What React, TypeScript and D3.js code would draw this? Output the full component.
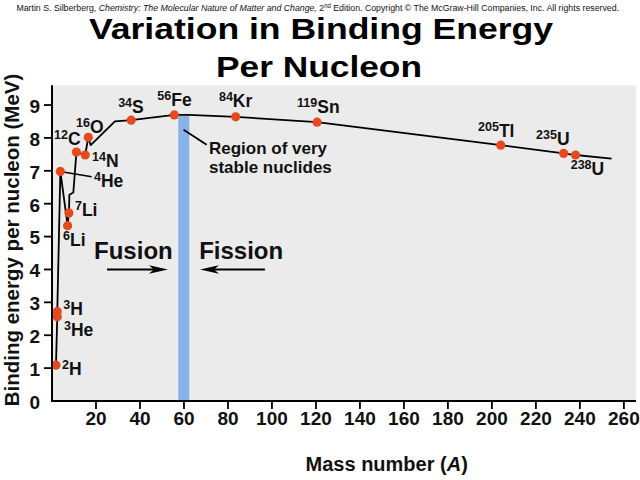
import React, { useLayoutEffect, useRef, useState } from "react";
import * as d3 from "d3";

// ---- data ----
const nuclideMass = ["2", "3", "3", "4", "6", "7", "12", "14", "16", "34", "56", "84", "119", "205", "235", "238"];
const nuclideSymbol = ["H", "H", "He", "He", "Li", "Li", "C", "N", "O", "S", "Fe", "Kr", "Sn", "Tl", "U", "U"];
const massNumberPos = [1.8, 2.4, 2.4, 3.8, 7.1, 7.7, 11.1, 15.1, 16.5, 36, 55.6, 83.5, 120.5, 204, 232.6, 238];
const bindingEnergy = [1.09, 2.72, 2.56, 6.98, 5.33, 5.72, 7.57, 7.48, 8.02, 8.54, 8.7, 8.64, 8.48, 7.78, 7.53, 7.48];

const curveA = [1.8, 2.4, 2.4, 3.8, 7.1, 7.7, 7.9, 9.7, 11.1, 15.1, 16.5, 17.6, 28.6, 36, 55.6, 62, 83.5, 120.5, 204, 232.6, 238, 254.4];
const curveBE = [1.09, 2.56, 2.72, 6.98, 5.33, 5.72, 6.27, 6.34, 7.57, 7.48, 8.02, 7.78, 8.5, 8.54, 8.7, 8.7, 8.64, 8.48, 7.78, 7.53, 7.48, 7.37];

const xTicks = [20, 40, 60, 80, 100, 120, 140, 160, 180, 200, 220, 240, 260];
const yTicks = [0, 1, 2, 3, 4, 5, 6, 7, 8, 9];
const stableBand = [57.4, 62.4];
const regionLines = ["Region of very", "stable nuclides"];

// ---- layout (label offsets in px relative to points) ----
const labelOffsets: [number, number][] = [
  [6, 10], [6, 3.5], [6.7, 19], [33.6, 15.3], [-4.6, 20.3], [6, 3], [-22.4, -7], [6.8, 12],
  [-12.3, -4.2], [-13, -6.8], [-17, -8.6], [-16.7, -10.1], [-20, -8.7], [-22.7, -8.4], [-27.6, -8.3], [-4.8, 20],
];

const FONT = "'Liberation Sans', Arial, Helvetica, sans-serif";
const W = 640;
const H = 480;
const HEADER_W = 603;

export default function App() {
  const headerRef = useRef<SVGTextElement>(null);
  const [headerScale, setHeaderScale] = useState(0.86);

  useLayoutEffect(() => {
    if (headerRef.current) {
      const w = headerRef.current.getBBox().width;
      if (w > 0) setHeaderScale(HEADER_W / w);
    }
  }, []);

  const x = d3.scaleLinear().domain([0, 265.5]).range([52, 636]);
  const y = d3.scaleLinear().domain([0, 9.6]).range([401, 85.3]);

  const line = d3
    .line<number>()
    .x((_, i) => x(curveA[i]))
    .y((d) => y(d));
  const curvePath = line(curveBE) || "";

  const pts = massNumberPos.map((a, i) => ({ px: x(a), py: y(bindingEnergy[i]) }));
  const fe = pts[10];
  const he4 = pts[3];

  const arrowHead = (tipX: number, tipY: number, dir: number) => {
    const L = 19, N = 14, h = 4.2;
    return `M${tipX},${tipY} L${tipX - dir * L},${tipY - h} L${tipX - dir * N},${tipY} L${tipX - dir * L},${tipY + h} Z`;
  };

  const arrowY = y(4.0);
  const fusionStart = x(25), fusionEnd = x(52.7);
  const fissionStart = x(96.8), fissionEnd = x(67.3);

  return (
    <svg width={W} height={H} style={{ position: "absolute", left: 0, top: 0, background: "#fff" }} fontFamily={FONT}>
      <rect x={0} y={0} width={W} height={H} fill="#fff" />
      {/* header */}
      <g transform={`translate(16.4, 10.5) scale(${headerScale}, 1)`}>
        <text ref={headerRef} x={0} y={0} fontSize={9.5} fill="#111">
          <tspan>Martin S. Silberberg, </tspan>
          <tspan fontStyle="italic">Chemistry: The Molecular Nature of Matter and Change,</tspan>
          <tspan> 2</tspan>
          <tspan fontSize={6.5} dy={-3}>nd</tspan>
          <tspan dy={3}> Edition.  Copyright © The McGraw-Hill Companies, Inc. All rights reserved.</tspan>
        </text>
      </g>
      {/* title */}
      <text x={321} y={38.5} fontSize={30} fontWeight="bold" textAnchor="middle" textLength={464} lengthAdjust="spacingAndGlyphs">
        Variation in Binding Energy
      </text>
      <text x={319} y={76.5} fontSize={30} fontWeight="bold" textAnchor="middle" textLength={206} lengthAdjust="spacingAndGlyphs">
        Per Nucleon
      </text>

      {/* plot background */}
      <rect x={x(0)} y={y(9.6)} width={x(265.5) - x(0)} height={y(0) - y(9.6)} fill="#ebebeb" />

      {/* stable band */}
      <rect
        x={x(stableBand[0])}
        y={fe.py + 1}
        width={x(stableBand[1]) - x(stableBand[0])}
        height={y(0) - fe.py - 1}
        fill="#86b4e8"
      />

      {/* curve */}
      <path d={curvePath} fill="none" stroke="#000" strokeWidth={1.8} strokeLinejoin="round" />

      {/* leader lines */}
      <line x1={he4.px} y1={he4.py} x2={he4.px + 31.3} y2={he4.py + 5.3} stroke="#000" strokeWidth={1.6} />
      <line x1={x(59.8)} y1={129.7} x2={206.7} y2={144.7} stroke="#000" strokeWidth={1.8} />

      {/* points */}
      {pts.map((p, i) => (
        <circle key={i} cx={p.px} cy={p.py} r={4.6} fill="#e54a1e" />
      ))}

      {/* labels */}
      {pts.map((p, i) => (
        <text key={"l" + i} x={p.px + labelOffsets[i][0]} y={p.py + labelOffsets[i][1]} fontWeight="bold" fill="#111">
          <tspan fontSize={12.5} dy={-6}>{nuclideMass[i]}</tspan>
          <tspan fontSize={17.5} dy={6}>{nuclideSymbol[i]}</tspan>
        </text>
      ))}

      {/* region label */}
      <text x={209} y={154} fontSize={17} fontWeight="bold" fill="#111">{regionLines[0]}</text>
      <text x={209} y={172.5} fontSize={17} fontWeight="bold" fill="#111">{regionLines[1]}</text>

      {/* fusion / fission */}
      <text x={x(37)} y={y(4.32)} fontSize={24} fontWeight="bold" textAnchor="middle" fill="#111">Fusion</text>
      <text x={x(86)} y={y(4.32)} fontSize={24} fontWeight="bold" textAnchor="middle" fill="#111">Fission</text>
      <line x1={fusionStart} y1={arrowY} x2={fusionEnd - 12} y2={arrowY} stroke="#000" strokeWidth={2} />
      <path d={arrowHead(fusionEnd, arrowY, 1)} fill="#000" />
      <line x1={fissionStart} y1={arrowY} x2={fissionEnd + 12} y2={arrowY} stroke="#000" strokeWidth={2} />
      <path d={arrowHead(fissionEnd, arrowY, -1)} fill="#000" />

      {/* axes */}
      <line x1={x(0)} y1={y(0)} x2={x(265.5)} y2={y(0)} stroke="#000" strokeWidth={2} />
      <line x1={x(0)} y1={y(0) + 1} x2={x(0)} y2={y(9.6)} stroke="#000" strokeWidth={2} />
      {xTicks.map((t) => (
        <g key={"xt" + t}>
          <line x1={x(t)} x2={x(t)} y1={y(0)} y2={y(0) + 8} stroke="#000" strokeWidth={1.8} />
          <text x={x(t)} y={424.5} fontSize={19} fontWeight="bold" textAnchor="middle" fill="#111">{t}</text>
        </g>
      ))}
      {yTicks.map((t) => (
        <g key={"yt" + t}>
          {t > 0 && <line x1={x(0) - 8} x2={x(0)} y1={y(t)} y2={y(t)} stroke="#000" strokeWidth={1.8} />}
          <text x={40} y={y(t) + 1} dy="0.36em" fontSize={19} fontWeight="bold" textAnchor="end" fill="#111">{t}</text>
        </g>
      ))}

      {/* axis titles */}
      <text x={386.7} y={471} fontSize={20} fontWeight="bold" textAnchor="middle" fill="#111">
        Mass number (<tspan fontStyle="italic">A</tspan>)
      </text>
      <text
        transform={`translate(18.5, 240) rotate(-90)`}
        fontSize={20.5}
        fontWeight="bold"
        textAnchor="middle"
        fill="#111"
      >
        Binding energy per nucleon (MeV)
      </text>
    </svg>
  );
}
